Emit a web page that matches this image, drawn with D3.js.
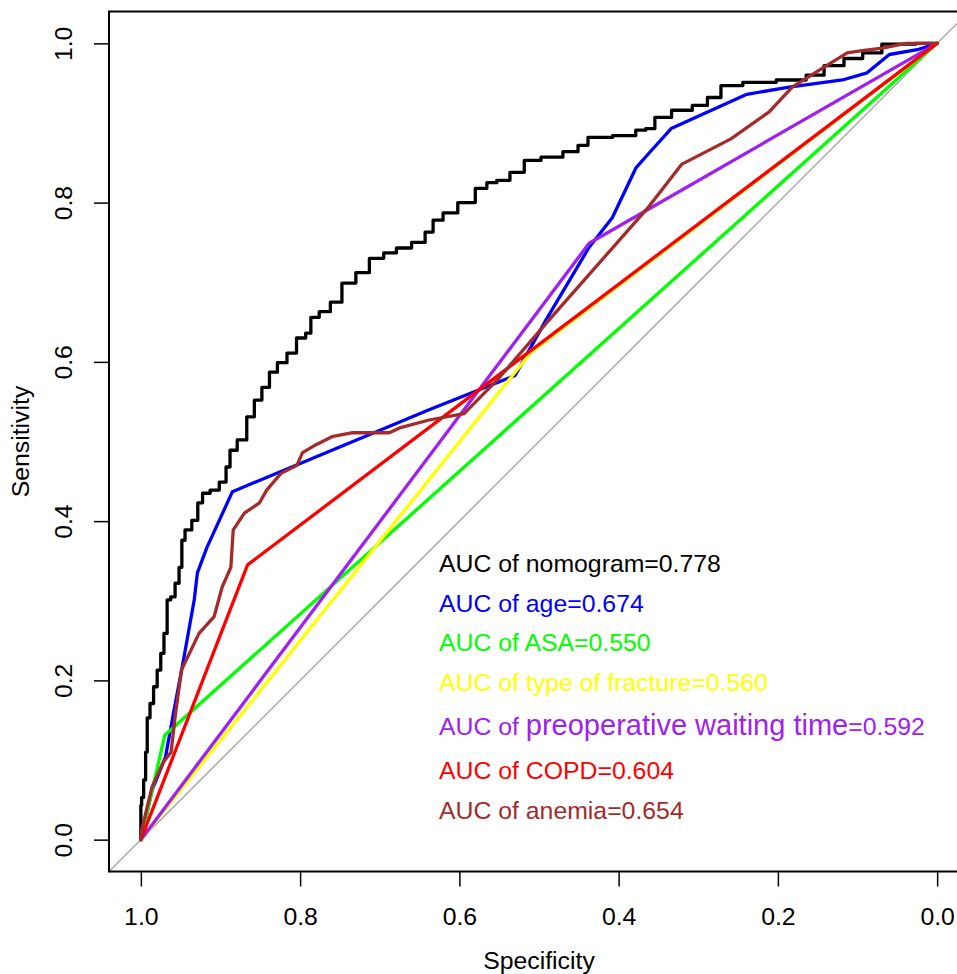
<!DOCTYPE html>
<html>
<head>
<meta charset="utf-8">
<script src="https://cdn.jsdelivr.net/npm/d3@7"></script>
<style>
  body { margin: 0; background: #fff; }
  svg { display: block; font-family: "Liberation Sans", Arial, sans-serif; }
</style>
</head>
<body>
<svg id="chart" width="957" height="974"></svg>
<script>
// ROC curves: specificity (x, reversed) vs sensitivity (y)

var nomogramSpec = [1.000, 1.000, 1.000, 0.998, 0.995, 0.993, 0.991, 0.986, 0.982, 0.977, 0.973, 0.969, 0.965, 0.960, 0.954, 0.950, 0.947, 0.942, 0.930, 0.927, 0.918, 0.908, 0.895, 0.891, 0.885, 0.873, 0.861, 0.854, 0.842, 0.835, 0.822, 0.811, 0.798, 0.788, 0.785, 0.767, 0.757, 0.738, 0.722, 0.704, 0.686, 0.672, 0.648, 0.638, 0.628, 0.613, 0.591, 0.569, 0.562, 0.544, 0.529, 0.508, 0.487, 0.453, 0.449, 0.428, 0.387, 0.370, 0.362, 0.347, 0.320, 0.295, 0.282, 0.261, 0.227, 0.177, 0.152, 0.132, 0.102, 0.085, 0.054, 0.000];
var nomogramSens = [0.000, 0.012, 0.043, 0.053, 0.075, 0.110, 0.153, 0.171, 0.192, 0.213, 0.234, 0.259, 0.301, 0.305, 0.322, 0.342, 0.376, 0.389, 0.401, 0.423, 0.435, 0.439, 0.449, 0.468, 0.489, 0.502, 0.531, 0.552, 0.568, 0.587, 0.599, 0.611, 0.630, 0.636, 0.656, 0.663, 0.675, 0.699, 0.712, 0.730, 0.737, 0.743, 0.750, 0.763, 0.778, 0.787, 0.800, 0.818, 0.825, 0.828, 0.838, 0.853, 0.857, 0.864, 0.872, 0.882, 0.884, 0.891, 0.893, 0.907, 0.916, 0.922, 0.932, 0.947, 0.951, 0.954, 0.960, 0.972, 0.981, 0.988, 0.999, 1.000];

var ageSpec = [1.000, 0.986, 0.969, 0.959, 0.948, 0.933, 0.929, 0.917, 0.885, 0.638, 0.530, 0.491, 0.437, 0.408, 0.378, 0.362, 0.334, 0.239, 0.186, 0.119, 0.088, 0.060, 0.025, 0.000];
var ageSens = [0.000, 0.062, 0.104, 0.159, 0.217, 0.301, 0.335, 0.367, 0.437, 0.540, 0.583, 0.653, 0.744, 0.781, 0.844, 0.862, 0.893, 0.936, 0.945, 0.954, 0.963, 0.986, 0.992, 1.000];

var asaSpec = [1.000, 0.970, 0.000];
var asaSens = [0.000, 0.131, 1.000];

var fractureSpec = [1.000, 0.510, 0.000];
var fractureSens = [0.000, 0.612, 1.000];

var waitingSpec = [1.000, 0.437, 0.000];
var waitingSens = [0.000, 0.749, 1.000];

var copdSpec = [1.000, 0.866, 0.000];
var copdSens = [0.000, 0.345, 1.000];

var anemiaSpec = [1.000, 0.999, 0.986, 0.972, 0.962, 0.957, 0.949, 0.927, 0.908, 0.898, 0.887, 0.884, 0.870, 0.851, 0.842, 0.824, 0.804, 0.797, 0.780, 0.760, 0.734, 0.688, 0.675, 0.638, 0.594, 0.550, 0.487, 0.362, 0.321, 0.259, 0.211, 0.182, 0.144, 0.113, 0.094, 0.069, 0.039, 0.000];
var anemiaSens = [0.000, 0.012, 0.066, 0.097, 0.110, 0.154, 0.213, 0.259, 0.280, 0.317, 0.342, 0.389, 0.410, 0.423, 0.439, 0.460, 0.470, 0.486, 0.496, 0.506, 0.511, 0.511, 0.517, 0.527, 0.535, 0.580, 0.653, 0.795, 0.848, 0.880, 0.914, 0.945, 0.969, 0.988, 0.991, 0.994, 1.000, 1.000];

var curveNames = ["nomogram", "age", "ASA", "type of fracture", "preoperative waiting time", "COPD", "anemia"];
var curveColors = ["#000000", "#0000ff", "#00ff00", "#ffff00", "#a020f0", "#ff0000", "#a52a2a"];
var aucValues = ["0.778", "0.674", "0.550", "0.560", "0.592", "0.604", "0.654"];
var curveSpecs = [nomogramSpec, ageSpec, asaSpec, fractureSpec, waitingSpec, copdSpec, anemiaSpec];
var curveSenss = [nomogramSens, ageSens, asaSens, fractureSens, waitingSens, copdSens, anemiaSens];

var tickValues = [1.0, 0.8, 0.6, 0.4, 0.2, 0.0];

(function() {
  var svg = d3.select("#chart");
  var pLeft = 109, pRight = 969, pTop = 11.5, pBottom = 871.5;
  var fontSize = 24.8;

  var x = d3.scaleLinear().domain([1.04, -0.04]).range([pLeft, pRight]);
  var y = d3.scaleLinear().domain([-0.04, 1.04]).range([pBottom, pTop]);

  svg.append("defs").append("clipPath").attr("id", "plotclip")
    .append("rect").attr("x", pLeft).attr("y", pTop)
    .attr("width", pRight - pLeft).attr("height", pBottom - pTop);

  // identity line
  svg.append("line")
    .attr("clip-path", "url(#plotclip)")
    .attr("x1", x(1.04)).attr("y1", y(-0.04))
    .attr("x2", x(-0.04)).attr("y2", y(1.04))
    .attr("stroke", "#a9a9a9").attr("stroke-width", 1.5);

  var fmt = d3.format(".1f");

  // x axis
  var gx = svg.append("g").attr("transform", "translate(0," + pBottom + ")")
    .call(d3.axisBottom(x).tickValues(tickValues).tickFormat(fmt).tickSize(15));
  gx.select(".domain").remove();
  gx.selectAll(".tick line").attr("stroke", "#000").attr("stroke-width", 1.5);
  gx.selectAll(".tick text").attr("y", 53).attr("dy", null)
    .attr("font-size", fontSize).attr("font-family", "Liberation Sans, Arial, sans-serif").attr("fill", "#000");

  // y axis
  var gy = svg.append("g").attr("transform", "translate(" + pLeft + ",0)")
    .call(d3.axisLeft(y).tickValues(tickValues).tickFormat(fmt).tickSize(15));
  gy.select(".domain").remove();
  gy.selectAll(".tick line").attr("stroke", "#000").attr("stroke-width", 1.5);
  gy.selectAll(".tick text")
    .attr("x", null).attr("dy", null)
    .attr("transform", "translate(-37,0) rotate(-90)")
    .attr("text-anchor", "middle")
    .attr("font-size", fontSize).attr("font-family", "Liberation Sans, Arial, sans-serif").attr("fill", "#000");

  // box
  svg.append("rect").attr("x", pLeft).attr("y", pTop)
    .attr("width", pRight - pLeft).attr("height", pBottom - pTop)
    .attr("fill", "none").attr("stroke", "#000").attr("stroke-width", 2);

  // axis titles
  svg.append("text").attr("x", (x(1) + x(0)) / 2).attr("y", 969)
    .attr("text-anchor", "middle").attr("font-size", fontSize).text("Specificity");
  svg.append("text").attr("transform", "translate(28.5," + ((pTop + pBottom) / 2) + ") rotate(-90)")
    .attr("text-anchor", "middle").attr("font-size", fontSize).text("Sensitivity");

  // curves
  var line = d3.line().x(function(d) { return x(d[0]); }).y(function(d) { return y(d[1]); });
  var stepLine = d3.line().x(function(d) { return x(d[0]); }).y(function(d) { return y(d[1]); }).curve(d3.curveStep);

  curveNames.forEach(function(name, i) {
    var pts = d3.zip(curveSpecs[i], curveSenss[i]);
    svg.append("path")
      .datum(pts)
      .attr("d", i === 0 ? stepLine : line)
      .attr("fill", "none")
      .attr("stroke", curveColors[i])
      .attr("stroke-width", 3.3)
      .attr("stroke-linejoin", "round")
      .attr("stroke-linecap", "round");
  });

  // legend
  var legendX = 439, legendY = 572;
  var legendGaps = [0, 40, 39, 40, 44, 44, 40];
  var yy = legendY;
  curveNames.forEach(function(name, i) {
    yy += legendGaps[i];
    var t = svg.append("text").attr("x", legendX).attr("y", yy)
      .attr("fill", curveColors[i]).attr("font-size", fontSize);
    if (name === "preoperative waiting time") {
      t.append("tspan").text("AUC of ");
      t.append("tspan").attr("font-size", 29).text(name);
      t.append("tspan").text("=" + aucValues[i]);
    } else {
      t.text("AUC of " + name + "=" + aucValues[i]);
    }
  });
})();
</script>
</body>
</html>
